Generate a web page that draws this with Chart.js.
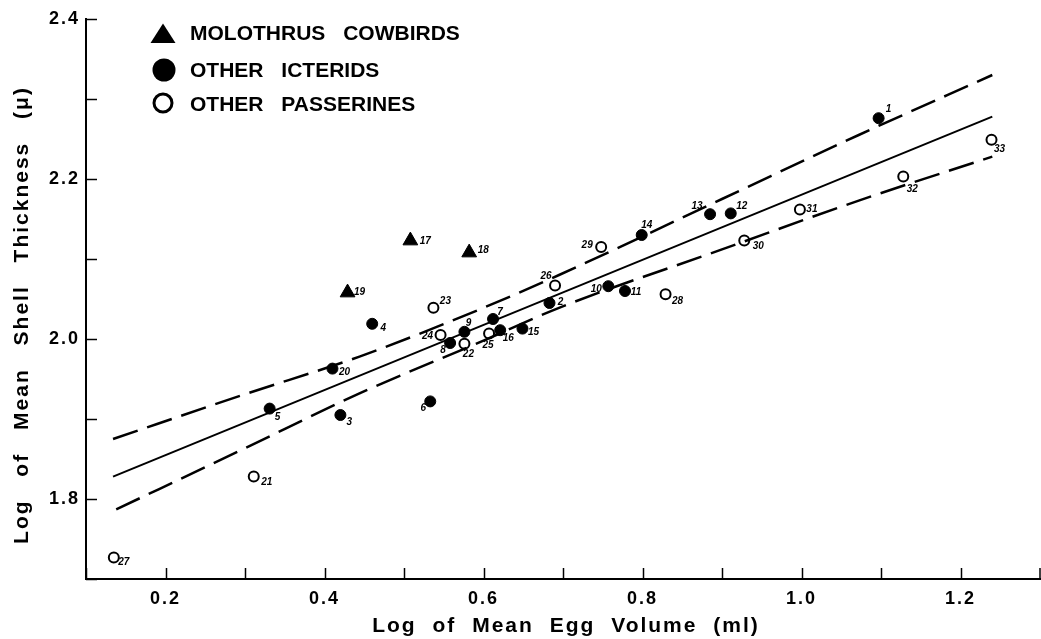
<!DOCTYPE html>
<html><head><meta charset="utf-8">
<script src="https://cdn.jsdelivr.net/npm/chart.js@4/dist/chart.umd.min.js"></script>
<style>html,body{margin:0;padding:0;background:#fff;}canvas{display:block;}</style>
</head><body>
<canvas id="c" width="1041" height="639"></canvas>
<script>
// ---- data ----
const cowbirdIds = [17, 18, 19];
const cowbirdX   = [0.508, 0.582, 0.429];
const cowbirdY   = [2.123, 2.108, 2.058];

const icteridIds = [1, 2, 3, 4, 5, 6, 7, 8, 9, 10, 11, 12, 13, 14, 15, 16, 20];
const icteridX   = [1.097, 0.683, 0.420, 0.460, 0.331, 0.533, 0.612, 0.558, 0.576, 0.757, 0.778, 0.911, 0.885, 0.799, 0.649, 0.621, 0.410];
const icteridY   = [2.276, 2.045, 1.905, 2.019, 1.913, 1.922, 2.025, 1.995, 2.009, 2.066, 2.060, 2.157, 2.156, 2.130, 2.013, 2.011, 1.963];

const passerineIds = [21, 22, 23, 24, 25, 26, 27, 28, 29, 30, 31, 32, 33];
const passerineX   = [0.311, 0.576, 0.537, 0.546, 0.607, 0.690, 0.135, 0.829, 0.748, 0.928, 0.998, 1.128, 1.239];
const passerineY   = [1.828, 1.994, 2.039, 2.005, 2.007, 2.067, 1.727, 2.056, 2.115, 2.123, 2.162, 2.203, 2.249];

const fitX = [0.134, 1.240];
const fitY = [1.828, 2.278];

const upperX = [0.134, 0.300, 0.444, 0.600, 0.695, 0.900, 1.072, 1.240];
const upperY = [1.875, 1.931, 1.978, 2.039, 2.080, 2.175, 2.255, 2.330];

const lowerX = [0.138, 0.300, 0.444, 0.600, 0.695, 0.900, 1.072, 1.240];
const lowerY = [1.787, 1.8635, 1.932, 1.998, 2.039, 2.112, 2.173, 2.228];

const xTicks      = [0.1, 0.2, 0.3, 0.4, 0.5, 0.6, 0.7, 0.8, 0.9, 1.0, 1.1, 1.2, 1.3];
const xTickLabels = ['', '0.2', '', '0.4', '', '0.6', '', '0.8', '', '1.0', '', '1.2', ''];
const yTicks      = [1.7, 1.8, 1.9, 2.0, 2.1, 2.2, 2.3, 2.4];
const yTickLabels = ['', '1.8', '', '2.0', '', '2.2', '', '2.4'];

const legendLabels = ['MOLOTHRUS COWBIRDS', 'OTHER ICTERIDS', 'OTHER PASSERINES'];
const xTitle = 'Log of Mean Egg Volume (ml)';
const yTitle = 'Log of Mean Shell Thickness (\u03bc)';

// ---- styling: label offsets (px) for the small point numbers ----
const labelOffset = {
  1:[10,-9], 2:[11,-1], 3:[9,7], 4:[11,4], 5:[8,9], 6:[-7,7], 7:[7,-7], 8:[-7,7], 9:[4,-9],
  10:[-12,3], 11:[11,1], 12:[11,-7], 13:[-13,-8], 14:[5,-10], 15:[11,4], 16:[8,8],
  17:[15,1], 18:[14,-2], 19:[12,0], 20:[12,4], 21:[13,6], 22:[4,10], 23:[12,-7], 24:[-13,1],
  25:[-1,12], 26:[-9,-9], 27:[10,5], 28:[12,7], 29:[-14,-2], 30:[14,6], 31:[12,0], 32:[9,13], 33:[8,9]
};

const FONT = "'Liberation Sans', Arial, sans-serif";
const pts = (xs, ys) => xs.map((x, i) => ({x: x, y: ys[i]}));

function patchTitle(s, ws, dx, dy) {
  if (s.__titlePatched) return;
  const orig = s.drawTitle.bind(s);
  s.drawTitle = function () {
    const c = this.ctx;
    c.save();
    c.wordSpacing = ws;
    c.translate(dx, dy);
    orig();
    c.restore();
  };
  s.__titlePatched = true;
}

const spacingPlugin = {
  id: 'spacing',
  beforeDraw(chart) {
    const c = chart.ctx;
    c.letterSpacing = '2px';
    c.wordSpacing = '12px';
  }
};

const innerTicks = {
  id: 'innerTicks',
  afterDraw(chart) {
    const {ctx, scales: {x, y}} = chart;
    ctx.save();
    ctx.strokeStyle = '#000';
    ctx.lineWidth = 1.5;
    x.ticks.forEach(t => {
      const px = Math.min(Math.round(x.getPixelForValue(t.value)) + 0.5, chart.width - 1);
      ctx.beginPath(); ctx.moveTo(px, x.top); ctx.lineTo(px, x.top - 11); ctx.stroke();
    });
    y.ticks.forEach(t => {
      const py = Math.round(y.getPixelForValue(t.value)) + 0.5;
      ctx.beginPath(); ctx.moveTo(y.right, py); ctx.lineTo(y.right + 11, py); ctx.stroke();
    });
    ctx.restore();
  }
};

const pointLabels = {
  id: 'pointLabels',
  afterDatasetsDraw(chart) {
    const ctx = chart.ctx;
    const groups = [[3, cowbirdIds], [4, icteridIds], [5, passerineIds]];
    ctx.save();
    ctx.letterSpacing = '0px';
    ctx.wordSpacing = '0px';
    ctx.fillStyle = '#000';
    ctx.font = "italic bold 10px " + FONT;
    ctx.textAlign = 'center';
    ctx.textBaseline = 'middle';
    groups.forEach(([di, ids]) => {
      const meta = chart.getDatasetMeta(di);
      meta.data.forEach((el, i) => {
        const id = ids[i];
        const off = labelOffset[id] || [10, 0];
        ctx.fillText(String(id), el.x + off[0], el.y + off[1]);
      });
    });
    ctx.restore();
  }
};

const legendPlugin = {
  id: 'customLegend',
  afterDraw(chart) {
    const ctx = chart.ctx;
    ctx.save();
    ctx.fillStyle = '#000';
    ctx.strokeStyle = '#000';
    const mx = 163, rows = [33.5, 70, 104];
    // triangle
    ctx.beginPath();
    ctx.moveTo(mx, rows[0] - 10); ctx.lineTo(mx + 12.5, rows[0] + 9.5); ctx.lineTo(mx - 12.5, rows[0] + 9.5);
    ctx.closePath(); ctx.fill();
    // filled circle
    ctx.beginPath(); ctx.arc(mx + 1, rows[1], 11.5, 0, Math.PI * 2); ctx.fill();
    // open circle
    ctx.lineWidth = 3;
    ctx.beginPath(); ctx.arc(mx, rows[2] - 1, 9, 0, Math.PI * 2); ctx.stroke();
    ctx.letterSpacing = '0px';
    ctx.wordSpacing = '12px';
    ctx.font = "bold 21px " + FONT;
    ctx.textAlign = 'left';
    ctx.textBaseline = 'middle';
    legendLabels.forEach((t, i) => ctx.fillText(t, 190, rows[i] + 1));
    ctx.restore();
  }
};

const axisCommon = {
  type: 'linear',
  grid: {display: true, drawOnChartArea: false, drawTicks: false, color: 'rgba(0,0,0,0)'},
  border: {display: true, color: '#000', width: 2}
};

new Chart(document.getElementById('c').getContext('2d'), {
  type: 'scatter',
  data: {
    datasets: [
      {label: 'fit', data: pts(fitX, fitY), showLine: true, borderColor: '#000', borderWidth: 2,
       pointRadius: 0, fill: false},
      {label: 'upper', data: pts(upperX, upperY), showLine: true, borderColor: '#000', borderWidth: 2.5,
       borderDash: [26, 10], pointRadius: 0, fill: false, cubicInterpolationMode: 'monotone'},
      {label: 'lower', data: pts(lowerX, lowerY), showLine: true, borderColor: '#000', borderWidth: 2.5,
       borderDash: [26, 10], pointRadius: 0, fill: false, cubicInterpolationMode: 'monotone'},
      {label: legendLabels[0], data: pts(cowbirdX, cowbirdY), pointStyle: 'triangle', pointRadius: 8.5,
       backgroundColor: '#000', borderColor: '#000', borderWidth: 1},
      {label: legendLabels[1], data: pts(icteridX, icteridY), pointStyle: 'circle', pointRadius: 5.5,
       backgroundColor: '#000', borderColor: '#000', borderWidth: 1},
      {label: legendLabels[2], data: pts(passerineX, passerineY), pointStyle: 'circle', pointRadius: 5,
       backgroundColor: 'rgba(0,0,0,0)', borderColor: '#000', borderWidth: 2}
    ]
  },
  options: {
    responsive: false,
    animation: false,
    devicePixelRatio: 1,
    layout: {autoPadding: false, padding: {top: 19, right: 1, left: 0, bottom: 0}},
    plugins: {legend: {display: false}, tooltip: {enabled: false}},
    scales: {
      x: Object.assign({}, axisCommon, {
        min: 0.1, max: 1.3,
        afterBuildTicks(s) { s.ticks = xTicks.map(v => ({value: v})); },
        afterFit(s) {
          s.height = 60; s.paddingLeft = 0; s.paddingRight = 0;
          patchTitle(s, '8px', 3, 0);
        },
        ticks: {autoSkip: false, maxRotation: 0, padding: 9, color: '#000',
                font: {family: FONT, size: 18, weight: 'bold'},
                callback: (v, i) => xTickLabels[i]},
        title: {display: true, text: xTitle, color: '#000', font: {family: FONT, size: 21, weight: 'bold'},
                padding: {top: 0, bottom: 0}}
      }),
      y: Object.assign({}, axisCommon, {
        min: 1.7, max: 2.4,
        afterBuildTicks(s) { s.ticks = yTicks.map(v => ({value: v})); },
        afterFit(s) {
          s.width = 86;
          patchTitle(s, '15px', 0, 16);
        },
        ticks: {autoSkip: false, padding: 6, color: '#000',
                font: {family: FONT, size: 18, weight: 'bold'},
                callback: (v, i) => yTickLabels[i]},
        title: {display: true, text: yTitle, color: '#000', font: {family: FONT, size: 21, weight: 'bold'},
                padding: {top: 10, bottom: 0}}
      })
    }
  },
  plugins: [spacingPlugin, innerTicks, pointLabels, legendPlugin]
});
</script>
</body></html>
